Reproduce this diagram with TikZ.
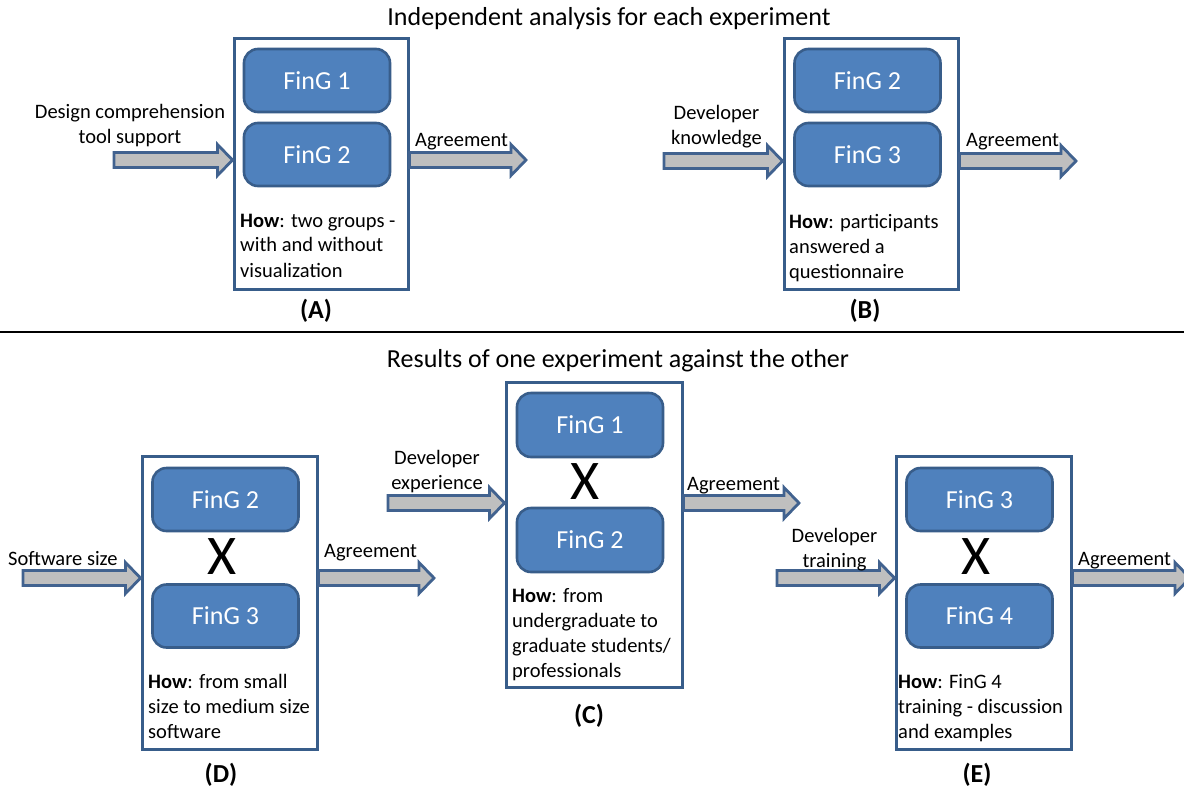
\documentclass[tikz,border=0pt]{standalone}
\usepackage{fontspec}
\setmainfont{Carlito}
\usetikzlibrary{calc}
\definecolor{fingblue}{HTML}{4F81BD}
\definecolor{fingedge}{HTML}{385D8A}
\definecolor{arrowfill}{HTML}{BFBFBF}
\definecolor{arrowedge}{HTML}{41628F}
\begin{document}
\begin{tikzpicture}[
    x=1pt, y=-1pt,
    every node/.style={inner sep=0pt},
    lbl/.style={font=\fontsize{20.5}{25}\selectfont, align=center, anchor=base},
    agree/.style={font=\fontsize{20.5}{25}\selectfont, anchor=base west},
    how/.style={font=\fontsize{20.5}{25}\selectfont, align=left, anchor=north west},
    title/.style={font=\fontsize{26}{30}\selectfont, anchor=base},
    tag/.style={font=\fontsize{26}{30}\selectfont\bfseries},
    expbox/.style={draw=fingedge, line width=3pt, fill=white, minimum width=174, minimum height=251},
    fing/.style={draw=fingedge, fill=fingblue, line width=2.6pt, rounded corners=14pt,
      minimum width=146, minimum height=63, text=white, font=\fontsize{26}{30}\selectfont},
    cross/.style={font=\fontsize{56}{60}\selectfont},
    fatarrow/.style={draw=arrowedge, fill=arrowfill, line width=2.8pt,
      to path={let \p1=(\tikztostart), \p2=(\tikztotarget) in
        (\x1,\y1+7.5pt) -- (\x2-15pt,\y1+7.5pt) -- (\x2-15pt,\y1+15.5pt) -- (\x2,\y1)
        -- (\x2-15pt,\y1-15.5pt) -- (\x2-15pt,\y1-7.5pt) -- (\x1,\y1-7.5pt) -- cycle}}
]
\useasboundingbox (0,0) rectangle (1184,796);

% upper half: one experiment at a time
\node[title] (top) at (609,25) {Independent analysis for each experiment};

\node[expbox] (boxA) at (321,163.5) {};
\node[fing] (a1) at (317,80.5) {FinG 1};
\node[fing] (a2) at (317,154.5) {FinG 2};
\node[how] (howA) at (240,213.5) {\textbf{How}: two groups -\\with and without\\visualization};
\node[tag] (tagA) at (316,311) {(A)};
\coordinate (inA) at (114,160);
\coordinate (outA) at (526,160);
\draw[fatarrow] (inA) to (boxA.west |- inA);
\draw[fatarrow] (boxA.east |- outA) to (outA);
\node[lbl] (lA) at (130,143) {Design comprehension\\tool support};
\node[agree] (gA) at (415,146.7) {Agreement};

\node[expbox] (boxB) at (871,163.5) {};
\node[fing] (b1) at (867.5,80.5) {FinG 2};
\node[fing] (b2) at (867.5,154.5) {FinG 3};
\node[how] (howB) at (789,214.5) {\textbf{How}: participants\\answered a\\questionnaire};
\node[tag] (tagB) at (865,311) {(B)};
\coordinate (inB) at (664,161);
\coordinate (outB) at (1076,161);
\draw[fatarrow] (inB) to (boxB.west |- inB);
\draw[fatarrow] (boxB.east |- outB) to (outB);
\node[lbl] (lB) at (716.5,144) {Developer\\knowledge};
\node[agree] (gB) at (966,146.7) {Agreement};

\draw[line width=1.5pt] (0,332) -- (1184,332);

% lower half: experiments against each other
\node[title] (bottom) at (618,367) {Results of one experiment against the other};

\node[expbox, minimum width=175, minimum height=293] (boxD) at (229.5,602.5) {};
\node[fing] (d1) at (225.5,499.5) {FinG 2};
\node[cross] (xD) at (222,557) {X};
\node[fing] (d2) at (225.5,616) {FinG 3};
\node[how] (howD) at (148,674.5) {\textbf{How}: from small\\size to medium size\\software};
\node[tag] (tagD) at (221,775) {(D)};
\coordinate (inD) at (23,578);
\coordinate (outD) at (434,578);
\draw[fatarrow] (inD) to (boxD.west |- inD);
\draw[fatarrow] (boxD.east |- outD) to (outD);
\node[agree] (lD) at (8,565) {Software size};
\node[agree] (gD) at (324,557) {Agreement};

\node[expbox, minimum width=176, minimum height=305] (boxC) at (594,534.5) {};
\node[fing, minimum height=64] (c1) at (590,425) {FinG 1};
\node[cross] (xC) at (585,482) {X};
\node[fing, minimum height=64] (c2) at (590,540) {FinG 2};
\node[how] (howC) at (512,588.5) {\textbf{How}: from\\undergraduate to\\graduate students/\\professionals};
\node[tag] (tagC) at (589,716) {(C)};
\coordinate (inC) at (388,503);
\coordinate (outC) at (799,503);
\draw[fatarrow] (inC) to (boxC.west |- inC);
\draw[fatarrow] (boxC.east |- outC) to (outC);
\node[lbl] (lC) at (437,489) {Developer\\experience};
\node[agree] (gC) at (687,490) {Agreement};

\node[expbox, minimum width=175, minimum height=293] (boxE) at (983.5,602.5) {};
\node[fing] (e1) at (979.5,499.5) {FinG 3};
\node[cross] (xE) at (976,557) {X};
\node[fing] (e2) at (979.5,616) {FinG 4};
\node[how] (howE) at (898,674.5) {\textbf{How}: FinG 4\\training - discussion\\and examples};
\node[tag] (tagE) at (977,775) {(E)};
\coordinate (inE) at (777,578);
\coordinate (outE) at (1190,578);
\draw[fatarrow] (inE) to (boxE.west |- inE);
\draw[fatarrow] (boxE.east |- outE) to (outE);
\node[lbl] (lE) at (834.5,567) {Developer\\training};
\node[agree] (gE) at (1078,565) {Agreement};
\end{tikzpicture}
\end{document}
